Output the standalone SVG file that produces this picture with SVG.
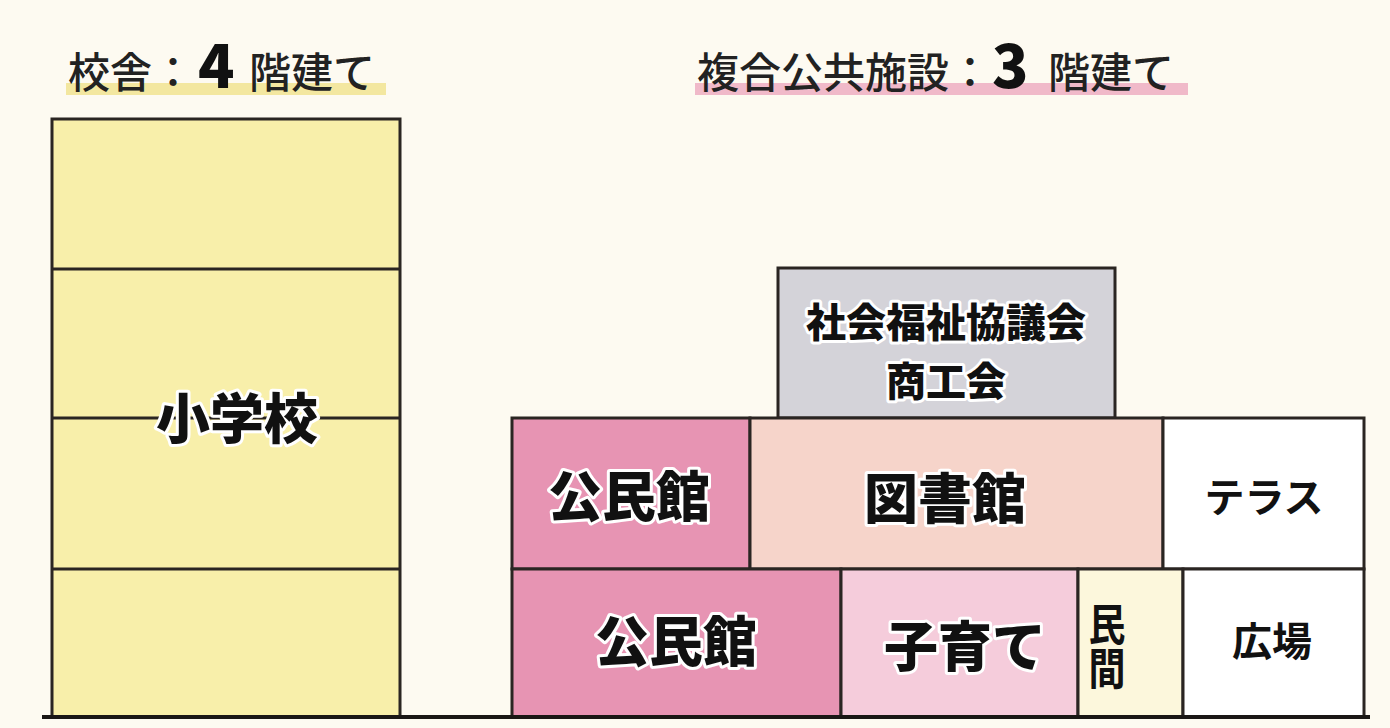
<svg xmlns="http://www.w3.org/2000/svg" width="1390" height="728" viewBox="0 0 1390 728">
<style>
.bd{stroke:#2a2522;stroke-width:3}
.ttl{font-family:"Noto Sans CJK JP","Noto Sans CJK SC",sans-serif;font-size:42px;fill:#222;font-weight:500}
.num{font-family:"Noto Sans CJK JP","Noto Sans CJK SC",sans-serif;font-size:60px;font-weight:900;fill:#111}
.lb{font-family:"Noto Sans CJK JP","Noto Sans CJK SC",sans-serif;font-weight:900;fill:#111;stroke:#fff;stroke-width:6;paint-order:stroke;stroke-linejoin:round;text-anchor:middle}
.lw{font-family:"Noto Sans CJK JP","Noto Sans CJK SC",sans-serif;font-weight:700;fill:#111;text-anchor:middle}
</style>
<rect x="0" y="0" width="1390" height="728" fill="#fdfaf1"/>
<g id="title-school">
<rect x="66" y="83" width="320" height="12" fill="#f3e7a0"/>
<text class="ttl" x="68" y="88">校舎：</text>
<text class="num" x="198" y="88">4</text>
<text class="ttl" x="249" y="88">階建て</text>
</g>
<g id="title-complex">
<rect x="695" y="83" width="493" height="12" fill="#f0b9c9"/>
<text class="ttl" x="697" y="88">複合公共施設：</text>
<text class="num" x="992" y="88">3</text>
<text class="ttl" x="1048" y="88">階建て</text>
</g>
<g id="school">
<rect class="bd" x="52" y="119" width="348" height="598" fill="#f8efaa"/>
<line class="bd" x1="52" y1="269" x2="400" y2="269"/>
<line class="bd" x1="52" y1="418" x2="400" y2="418"/>
<line class="bd" x1="52" y1="569" x2="400" y2="569"/>
<text class="lb" x="237" y="439" font-size="54">小学校</text>
</g>
<g id="shakyo">
<rect class="bd" x="778" y="268" width="337" height="150" fill="#d4d3d9"/>
<text class="lb" x="946" y="337" font-size="40">社会福祉協議会</text>
<text class="lb" x="946" y="396" font-size="40">商工会</text>
</g>
<g id="kominkan2">
<rect class="bd" x="512" y="418" width="238" height="151" fill="#e794b3"/>
<text class="lb" x="629" y="517" font-size="54">公民館</text>
</g>
<g id="toshokan">
<rect class="bd" x="750" y="418" width="413" height="151" fill="#f6d4ca"/>
<text class="lb" x="945" y="519" font-size="54">図書館</text>
</g>
<g id="terrace">
<rect class="bd" x="1163" y="418" width="201" height="151" fill="#ffffff"/>
<text class="lw" x="1264" y="512" font-size="40">テラス</text>
</g>
<g id="kominkan1">
<rect class="bd" x="512" y="569" width="329" height="148" fill="#e794b3"/>
<text class="lb" x="676" y="662" font-size="54">公民館</text>
</g>
<g id="kosodate">
<rect class="bd" x="841" y="569" width="237" height="148" fill="#f5ccdb"/>
<text class="lb" x="965" y="667" font-size="54">子育て</text>
</g>
<g id="minkan">
<rect class="bd" x="1078" y="569" width="105" height="148" fill="#fcf7dc"/>
<text font-family="Noto Sans CJK JP, Noto Sans CJK SC, sans-serif" font-weight="700" fill="#111" font-size="37" writing-mode="vertical-rl" transform="translate(1107 602) scale(1 1.2)" x="0" y="0">民間</text>
</g>
<g id="hiroba">
<rect class="bd" x="1183" y="569" width="181" height="148" fill="#ffffff"/>
<text class="lw" x="1272" y="656" font-size="40">広場</text>
</g>
<g id="connectors">
<line x1="42" y1="717" x2="1370" y2="717" stroke="#1a1715" stroke-width="4"/>
</g>
</svg>
